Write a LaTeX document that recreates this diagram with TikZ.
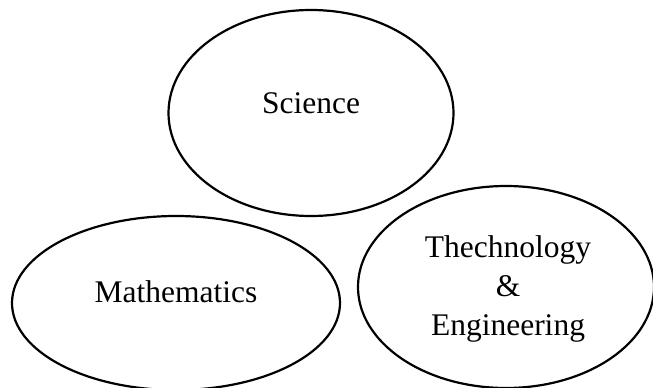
\documentclass[tikz,border=0pt]{standalone}
\usepackage{fontspec}
\setmainfont{Liberation Serif}
\usetikzlibrary{shapes.geometric}

\begin{document}
\begin{tikzpicture}[x=1pt,y=-1pt,
  bubble/.style={draw,ellipse,line width=2.2pt,inner sep=0pt},
  word/.style={font=\fontsize{31.5}{39}\selectfont,inner sep=0pt}]

  \useasboundingbox (0,0) rectangle (653,388);
  \clip (0,0) rectangle (653,388);

  % Ellipses
  \node[bubble,minimum width=285pt,minimum height=206pt] (sci) at (311,113) {};
  \node[bubble,minimum width=328pt,minimum height=174pt] (math) at (176,303) {};
  \node[bubble,minimum width=296pt,minimum height=202pt] (tech) at (506,287) {};

  % Labels
  \node[word,anchor=base] (scilabel) at (311,113) {Science};
  \node[word,anchor=base] (mathlabel) at (176,302) {Mathematics};
  \node[word,align=center] (techlabel) at (508,289) {Thechnology\\\&\\Engineering};

\end{tikzpicture}
\end{document}
